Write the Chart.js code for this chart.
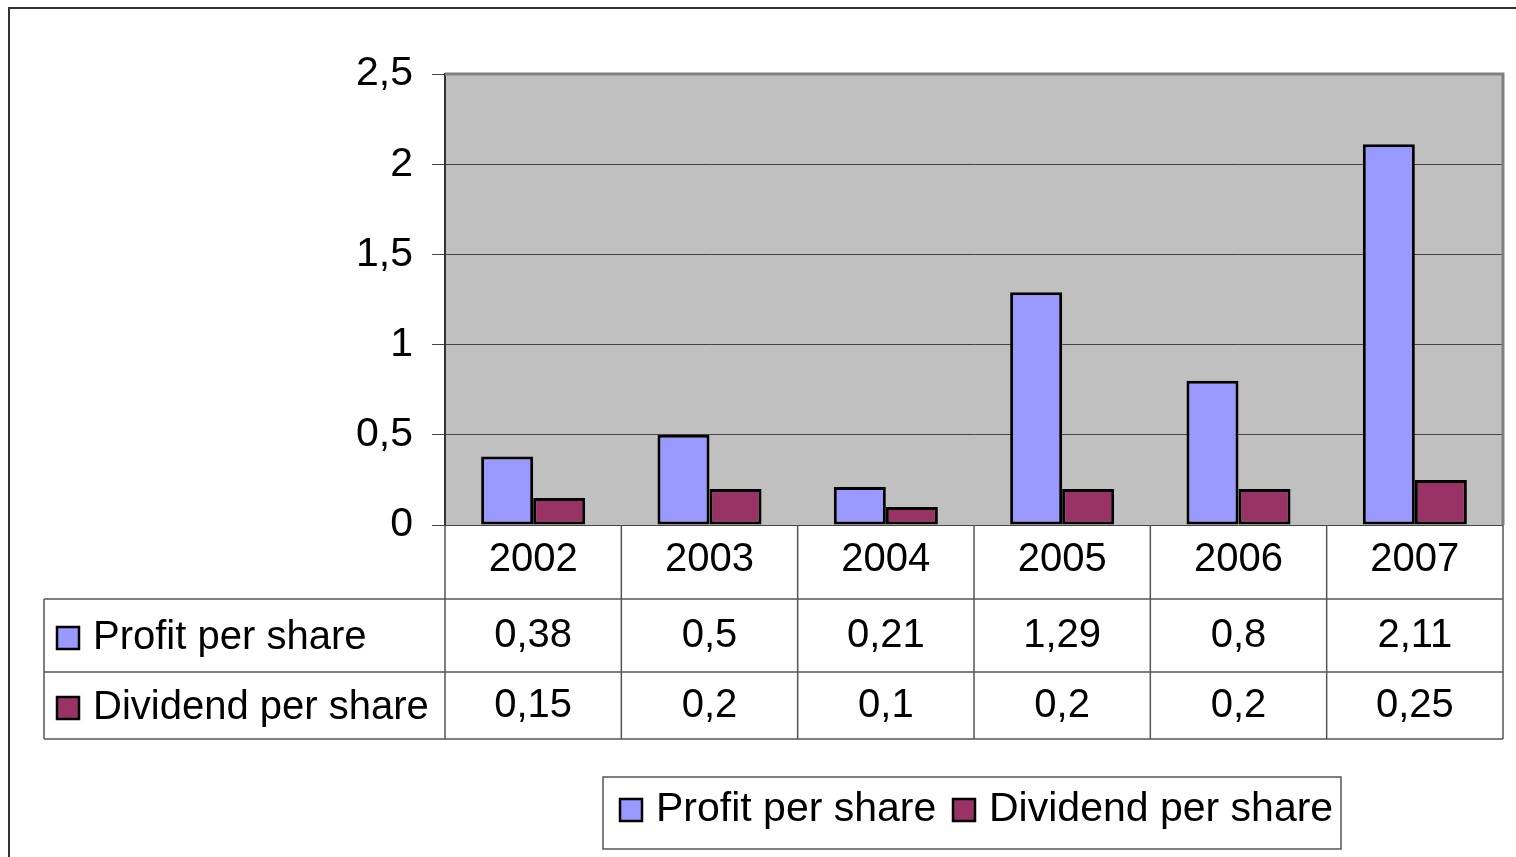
<!DOCTYPE html>
<html>
<head>
<meta charset="utf-8">
<script src="https://cdn.jsdelivr.net/npm/chart.js@4/dist/chart.umd.min.js"></script>
<style>
  body { margin: 0; background: #fff; }
  #wrap { width: 1516px; height: 857px; }
</style>
</head>
<body>
<div id="wrap"><canvas id="chart" width="1516" height="857"></canvas></div>
<script>
// data
const years = ['2002', '2003', '2004', '2005', '2006', '2007'];
const profit = [0.38, 0.5, 0.21, 1.29, 0.8, 2.11];
const dividend = [0.15, 0.2, 0.1, 0.2, 0.2, 0.25];
const seriesNames = ['Profit per share', 'Dividend per share'];

const FONT = '"Liberation Sans", Arial, sans-serif';
const fmt = v => String(v).replace('.', ',');

const tablePlugin = {
  id: 'tablePlugin',
  beforeDraw(chart) {
    const { ctx, chartArea: a } = chart;
    ctx.save();
    ctx.fillStyle = '#c0c0c0';
    ctx.fillRect(a.left, a.top, a.right - a.left, a.bottom - a.top);
    ctx.restore();
  },
  afterDraw(chart) {
    const { ctx, chartArea: a } = chart;
    const xs = chart.scales.x;
    const n = years.length;
    const cw = (a.right - a.left) / n;

    ctx.save();
    // outer frame
    ctx.strokeStyle = '#333';
    ctx.lineWidth = 2;
    ctx.beginPath();
    ctx.moveTo(9, 857); ctx.lineTo(9, 8); ctx.lineTo(1516, 8);
    ctx.stroke();

    // plot border top / right
    ctx.strokeStyle = '#808080';
    ctx.lineWidth = 3;
    ctx.beginPath();
    ctx.moveTo(a.left, a.top); ctx.lineTo(a.right, a.top); ctx.lineTo(a.right, a.bottom);
    ctx.stroke();

    // table
    const r1 = 599, r2 = 672, r3 = 739, tLeft = 44;
    ctx.strokeStyle = '#555';
    ctx.lineWidth = 1.5;
    ctx.beginPath();
    [r1, r2, r3].forEach(y => { ctx.moveTo(tLeft, y); ctx.lineTo(a.right, y); });
    for (let i = 0; i <= n; i++) {
      const x = a.left + i * cw;
      ctx.moveTo(x, a.bottom); ctx.lineTo(x, r3);
    }
    ctx.moveTo(tLeft, r1); ctx.lineTo(tLeft, r3);
    ctx.stroke();

    ctx.fillStyle = '#000';
    ctx.font = '40px ' + FONT;
    ctx.textAlign = 'center';
    ctx.textBaseline = 'middle';
    const rows = [profit, dividend];
    for (let i = 0; i < n; i++) {
      const cx = xs.getPixelForValue(i);
      ctx.fillText(years[i], cx, 560);
      ctx.fillText(fmt(rows[0][i]), cx, 636);
      ctx.fillText(fmt(rows[1][i]), cx, 706);
    }

    // row labels with swatches
    const ds = chart.data.datasets;
    const rowY = [638, 708];
    ctx.textAlign = 'left';
    ds.forEach((d, k) => {
      swatch(ctx, 57, rowY[k] - 11, d.backgroundColor);
      ctx.fillStyle = '#000';
      ctx.fillText(d.label, 93, rowY[k]);
    });

    // legend box
    ctx.strokeStyle = '#555';
    ctx.lineWidth = 1.5;
    ctx.strokeRect(603, 777, 738, 72);
    ctx.font = '41px ' + FONT;
    const lx = [620, 953];
    ds.forEach((d, k) => {
      swatch(ctx, lx[k], 799, d.backgroundColor);
      ctx.fillStyle = '#000';
      ctx.fillText(d.label, lx[k] + 36, 810);
    });
    ctx.restore();
  }
};

function swatch(ctx, x, y, color) {
  ctx.fillStyle = color;
  ctx.fillRect(x, y, 22, 22);
  ctx.strokeStyle = '#000';
  ctx.lineWidth = 2.5;
  ctx.strokeRect(x, y, 22, 22);
}

new Chart(document.getElementById('chart'), {
  type: 'bar',
  data: {
    labels: years,
    datasets: [{
      label: seriesNames[0],
      data: profit,
      backgroundColor: '#9999ff',
      borderColor: '#000',
      borderWidth: 3,
      borderSkipped: false
    }, {
      label: seriesNames[1],
      data: dividend,
      backgroundColor: '#993366',
      borderColor: '#000',
      borderWidth: 3,
      borderSkipped: false
    }]
  },
  options: {
    responsive: false,
    animation: false,
    layout: { padding: { left: 0, top: 74, right: 13, bottom: 332 } },
    datasets: { bar: { categoryPercentage: 0.59, barPercentage: 1.0 } },
    plugins: { legend: { display: false }, tooltip: { enabled: false } },
    scales: {
      x: { display: false },
      y: {
        min: 0,
        max: 2.5,
        ticks: {
          stepSize: 0.5,
          color: '#000',
          padding: 19,
          font: { family: FONT, size: 41 },
          callback: v => fmt(v)
        },
        grid: { color: '#444', lineWidth: 1, tickLength: 13, tickColor: '#444' },
        border: { display: true, color: '#333', width: 2 },
        afterFit: s => { s.width = 445; }
      }
    }
  },
  plugins: [tablePlugin]
});
</script>
</body>
</html>
